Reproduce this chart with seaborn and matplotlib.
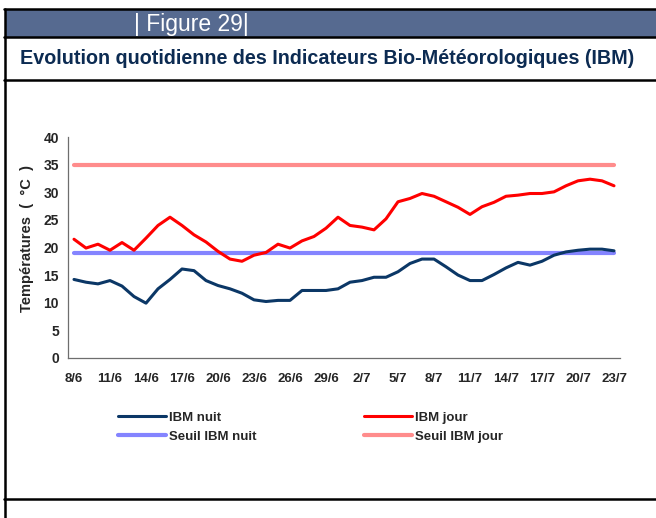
import seaborn as sns
import matplotlib.pyplot as plt
import matplotlib.patches as mpatches
from matplotlib.lines import Line2D
import numpy as np
import pandas as pd

# ---- data ----
dates = ["8/6", "9/6", "10/6", "11/6", "12/6", "13/6", "14/6", "15/6", "16/6", "17/6",
         "18/6", "19/6", "20/6", "21/6", "22/6", "23/6", "24/6", "25/6", "26/6", "27/6",
         "28/6", "29/6", "30/6", "1/7", "2/7", "3/7", "4/7", "5/7", "6/7", "7/7",
         "8/7", "9/7", "10/7", "11/7", "12/7", "13/7", "14/7", "15/7", "16/7", "17/7",
         "18/7", "19/7", "20/7", "21/7", "22/7", "23/7"]

ibm_nuit = [14.2, 13.7, 13.4, 14.0, 13.0, 11.1, 9.9, 12.5, 14.2, 16.1,
            15.8, 14.0, 13.1, 12.5, 11.7, 10.5, 10.2, 10.4, 10.4, 12.2,
            12.2, 12.2, 12.5, 13.7, 14.0, 14.6, 14.6, 15.6, 17.1, 17.9,
            17.9, 16.5, 15.0, 14.0, 14.0, 15.1, 16.3, 17.3, 16.8, 17.5,
            18.6, 19.2, 19.5, 19.7, 19.7, 19.4]

ibm_jour = [21.5, 19.9, 20.6, 19.5, 20.9, 19.5, 21.7, 24.0, 25.5, 24.0,
            22.3, 21.0, 19.3, 17.9, 17.5, 18.6, 19.1, 20.6, 19.9, 21.2,
            22.0, 23.5, 25.5, 24.0, 23.7, 23.2, 25.2, 28.3, 28.9, 29.8,
            29.3, 28.3, 27.3, 26.0, 27.4, 28.2, 29.3, 29.5, 29.8, 29.8,
            30.1, 31.2, 32.1, 32.4, 32.1, 31.2]

seuil_nuit = 19
seuil_jour = 35

yticks = [0, 5, 10, 15, 20, 25, 30, 35, 40]

# ---- mise en forme ----
n = len(dates)
idx = np.arange(n)
df = pd.DataFrame({"jour": idx, "IBM nuit": ibm_nuit, "IBM jour": ibm_jour,
                   "Seuil IBM nuit": [seuil_nuit] * n, "Seuil IBM jour": [seuil_jour] * n})

sns.set_style("white")
plt.rcParams["font.family"] = ["Liberation Sans", "DejaVu Sans"]

W, H = 656, 518
fig = plt.figure(figsize=(W / 100, H / 100), dpi=100)
ax = fig.add_axes([68 / W, 1 - 357.7 / H, (620 - 68) / W, (357.7 - 137.3) / H])

col_nuit = "#0b3766"
col_jour = "#ff0000"
col_snuit = "#8484ff"
col_sjour = "#ff8c8c"

sns.lineplot(data=df, x="jour", y="Seuil IBM jour", ax=ax, color=col_sjour, lw=3.0, label="Seuil IBM jour")
sns.lineplot(data=df, x="jour", y="Seuil IBM nuit", ax=ax, color=col_snuit, lw=3.0, label="Seuil IBM nuit")
sns.lineplot(data=df, x="jour", y="IBM jour", ax=ax, color=col_jour, lw=2.2, label="IBM jour")
sns.lineplot(data=df, x="jour", y="IBM nuit", ax=ax, color=col_nuit, lw=2.2, label="IBM nuit")

ax.set_xlim(-0.5, n - 0.5)
ax.set_ylim(0, 40)
ax.set_yticks(yticks)
ax.set_yticklabels([str(v) for v in yticks], fontweight="bold", fontsize=10)
ax.set_xticks(idx[::3])
ax.set_xticklabels(dates[::3], fontweight="bold", fontsize=9.5,
                   family=["Liberation Sans Narrow", "Liberation Sans", "DejaVu Sans"])
ax.set_xticks(np.arange(-0.5, n, 1), minor=True)
ax.tick_params(axis="x", which="major", length=0, pad=11)
ax.tick_params(axis="x", which="minor", direction="inout", length=5, width=0.8, color="#6e6e6e")
ax.tick_params(axis="y", direction="out", length=3.6, width=0.8, color="#6e6e6e", pad=3)
for s in ["top", "right"]:
    ax.spines[s].set_visible(False)
for s in ["left", "bottom"]:
    ax.spines[s].set_color("#6e6e6e")
    ax.spines[s].set_linewidth(0.9)
ax.set_xlabel("")
ax.set_ylabel("Températures  (  °C  )", fontweight="bold", fontsize=10.5)
ax.yaxis.set_label_coords(-0.062, 0.54)

ax.get_legend().remove()
handles = [Line2D([], [], color=col_nuit, lw=2.2), Line2D([], [], color=col_snuit, lw=3.0),
           Line2D([], [], color=col_jour, lw=2.2), Line2D([], [], color=col_sjour, lw=3.0)]
labels = ["IBM nuit", "Seuil IBM nuit", "IBM jour", "Seuil IBM jour"]
fig.legend(handles, labels, ncol=2, loc="upper left", bbox_to_anchor=(106 / W, 1 - 400 / H),
           frameon=False, prop={"weight": "bold", "size": 9.5}, handlelength=3.64,
           handletextpad=0.2, columnspacing=8.2, labelspacing=0.5)

# ---- cadre / en-tete ----
def fx(x):
    return x / W

def fy(y):
    return 1 - y / H

fig.add_artist(mpatches.Rectangle((fx(5), fy(36.5)), fx(651), (26 / H), transform=fig.transFigure,
                                  color="#566a90", lw=0))
for y in [9.2, 37.3, 80, 498.5]:
    fig.add_artist(Line2D([fx(4), 1], [fy(y), fy(y)], transform=fig.transFigure, color="black", lw=1.8))
fig.add_artist(Line2D([fx(5.3), fx(5.3)], [fy(8.5), 0], transform=fig.transFigure, color="black", lw=1.8))

fig.text(fx(134), fy(24), "| Figure 29|", color="white", fontsize=16.5, va="center", ha="left")
fig.text(fx(20), fy(59), "Evolution quotidienne des Indicateurs Bio-Météorologiques (IBM)",
         color="#0c2b52", fontsize=14.2, fontweight="bold", va="center", ha="left")

fig.savefig("out.png", dpi=100)
